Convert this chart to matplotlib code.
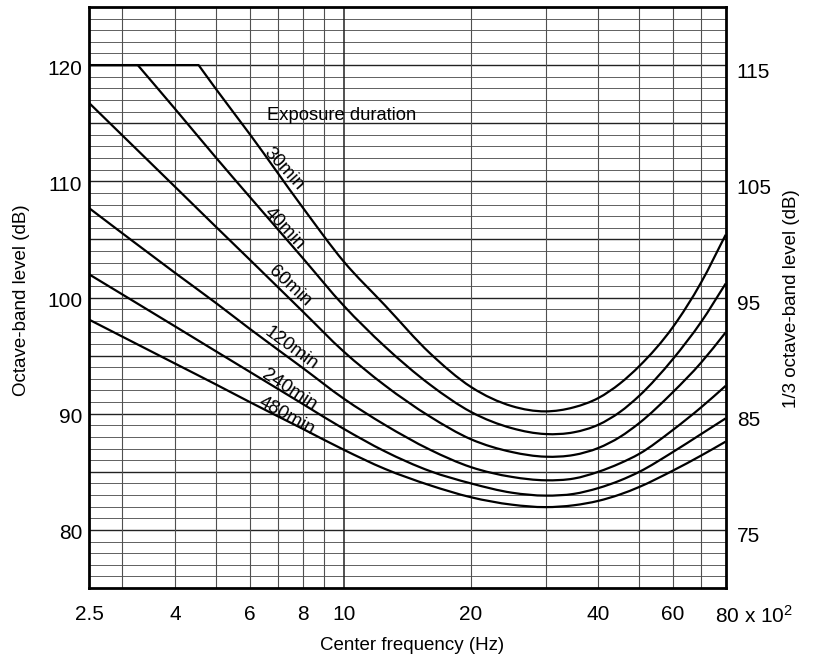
import matplotlib
matplotlib.use("Agg")
import matplotlib.pyplot as plt
import matplotlib.transforms as mtransforms
from matplotlib.path import Path
from matplotlib.patches import PathPatch
import numpy as np

plt.rcParams['font.family'] = ['Liberation Sans', 'DejaVu Sans']
plt.rcParams['mathtext.fontset'] = 'custom'
plt.rcParams['mathtext.rm'] = 'Liberation Sans'
plt.rcParams['mathtext.it'] = 'Liberation Sans:italic'
plt.rcParams['mathtext.bf'] = 'Liberation Sans:bold'

# ---- data (left axis: octave-band level, dB; x: centre frequency x 100 Hz) ----
freq_30 = [2.5, 4.54, 5, 6, 8, 10, 12.5, 16, 20, 25, 30, 35, 40, 45, 50, 60, 70, 80]
lvl_30 = [120, 120, 117.9, 114.05, 107.75, 103.1, 99.35, 95.2, 92.3, 90.65, 90.2, 90.55, 91.35, 92.6, 94.1, 97.45, 101.3, 105.4]

freq_40 = [2.5, 3.26, 4, 5, 6, 8, 10, 12.5, 16, 20, 25, 30, 35, 40, 45, 50, 60, 70, 80]
lvl_40 = [120, 120, 116.2, 112.0, 108.65, 103.4, 99.3, 95.8, 92.5, 90.15, 88.75, 88.25, 88.4, 89.05, 90.15, 91.55, 94.7, 97.9, 101.2]

freq = [2.5, 4, 5, 6, 8, 10, 12.5, 16, 20, 25, 30, 35, 40, 45, 50, 60, 70, 80]
lvl_60 = [116.75, 109.5, 106.05, 103.25, 98.8, 95.35, 92.45, 89.75, 87.8, 86.7, 86.3, 86.45, 87.05, 88.0, 89.2, 91.85, 94.4, 97.0]
lvl_120 = [107.7, 102.1, 99.5, 97.3, 93.94, 91.3, 89.05, 86.9, 85.4, 84.56, 84.27, 84.42, 85.0, 85.73, 86.55, 88.6, 90.55, 92.4]
lvl_240 = [102.0, 97.5, 95.35, 93.6, 90.84, 88.7, 86.77, 85.06, 84.0, 83.2, 82.95, 83.1, 83.6, 84.25, 85.0, 86.7, 88.25, 89.6]
lvl_480 = [98.1, 94.3, 92.5, 91.0, 88.7, 86.9, 85.26, 83.84, 82.81, 82.17, 81.96, 82.12, 82.5, 83.05, 83.7, 85.1, 86.4, 87.6]

durations = ['30min', '40min', '60min', '120min', '240min', '480min']
label_pos = [(7.21, 111.1, -48), (7.25, 105.9, -47), (7.45, 101.0, -43),
             (7.52, 95.6, -36), (7.45, 92.0, -33), (7.32, 89.8, -29)]

x_ticks = [2.5, 4, 6, 8, 10, 20, 40, 60, 80]
x_ticklabels = ['2.5', '4', '6', '8', '10', '20', '40', '60', '80 x 10$^2$']
x_grid = [3, 4, 5, 6, 7, 8, 9, 10, 20, 30, 40, 50, 60, 70]
left_ticks = [80, 90, 100, 110, 120]
right_ticks = [75, 85, 95, 105, 115]


def smooth_path(xs, ys, corners=()):
    """Cubic Bezier path through the given points (drawn smooth on a log-x axis)."""
    u = np.log10(np.asarray(xs, float))
    y = np.asarray(ys, float)
    h = np.diff(u)
    d = np.diff(y) / h
    n = len(u)
    mL = np.zeros(n)
    mR = np.zeros(n)
    for i in range(n):
        if i == 0:
            mL[i] = mR[i] = d[0]
        elif i == n - 1:
            mL[i] = mR[i] = d[-1]
        elif i in corners:
            mL[i], mR[i] = d[i - 1], d[i]
        else:
            m = (h[i] * d[i - 1] + h[i - 1] * d[i]) / (h[i - 1] + h[i])
            mL[i] = mR[i] = m
    verts = [(xs[0], ys[0])]
    codes = [Path.MOVETO]
    for i in range(n - 1):
        c1 = (10 ** (u[i] + h[i] / 3), y[i] + mR[i] * h[i] / 3)
        c2 = (10 ** (u[i + 1] - h[i] / 3), y[i + 1] - mL[i + 1] * h[i] / 3)
        verts += [c1, c2, (xs[i + 1], ys[i + 1])]
        codes += [Path.CURVE4] * 3
    return Path(verts, codes)


# ---- figure ----
fig = plt.figure(figsize=(8.22, 6.69), dpi=100)
ax = fig.add_axes([89/822, 1-588/669, (725.7-89)/822, (588-7)/669])
ax.set_xscale('log')
ax.set_xlim(2.5, 80)
ax.set_ylim(75, 125)

# grid
for v in range(76, 125):
    major = (v % 5 == 0)
    ax.axhline(v, color='#222222' if major else '#606060',
               lw=1.0 if major else 0.7, zorder=1)
for g in x_grid:
    ax.axvline(g, color='#222222' if g == 10 else '#505050',
               lw=1.1 if g == 10 else 0.8, zorder=1)

series = [(freq_30, lvl_30, (1,)), (freq_40, lvl_40, (1,)), (freq, lvl_60, ()),
          (freq, lvl_120, ()), (freq, lvl_240, ()), (freq, lvl_480, ())]
for (fx, fy, corners) in series:
    ax.add_patch(PathPatch(smooth_path(fx, fy, corners), fill=False,
                           edgecolor='black', lw=1.6, zorder=3,
                           joinstyle='round', capstyle='butt'))

for name, (lx, ly, rot) in zip(durations, label_pos):
    ax.text(lx, ly, name, rotation=rot, rotation_mode='anchor',
            ha='center', va='center', fontsize=13.5, zorder=4)

ax.text(6.6, 115.7, 'Exposure duration', ha='left', va='center',
        fontsize=13.2, zorder=4)

ax.set_xticks(x_ticks)
ax.set_xticklabels(x_ticklabels)
ax.xaxis.set_minor_locator(matplotlib.ticker.NullLocator())
ax.set_yticks(left_ticks)
ax.tick_params(axis='both', length=0, labelsize=15)
ax.tick_params(axis='x', pad=12)
ax.tick_params(axis='y', pad=5)

# last x tick label: shift so that "80" sits under the 80 line
lbls = ax.get_xticklabels()
lbls[-1].set_horizontalalignment('left')
lbls[-1].set_transform(lbls[-1].get_transform() +
                       mtransforms.ScaledTranslation(-11/100, 0, fig.dpi_scale_trans))
for t in ax.get_yticklabels():
    t.set_transform(t.get_transform() +
                    mtransforms.ScaledTranslation(0, -2/100, fig.dpi_scale_trans))

for sp in ax.spines.values():
    sp.set_linewidth(2.0)
    sp.set_zorder(5)

ax2 = ax.twinx()
ax2.set_ylim(70, 120)
ax2.set_yticks(right_ticks)
ax2.tick_params(axis='y', length=0, labelsize=15, pad=8)
for t in ax2.get_yticklabels():
    t.set_transform(t.get_transform() +
                    mtransforms.ScaledTranslation(0, -5/100, fig.dpi_scale_trans))
for sp in ax2.spines.values():
    sp.set_visible(False)

fig.text(21/822, 1-300/669, 'Octave-band level (dB)', rotation=90,
         ha='center', va='center', fontsize=13.5)
fig.text(791/822, 1-299/669, '1/3 octave-band level (dB)', rotation=90,
         ha='center', va='center', fontsize=13.5)
fig.text(412/822, 1-645/669, 'Center frequency (Hz)', ha='center',
         va='center', fontsize=13.5)

fig.savefig('out.png', dpi=100)
